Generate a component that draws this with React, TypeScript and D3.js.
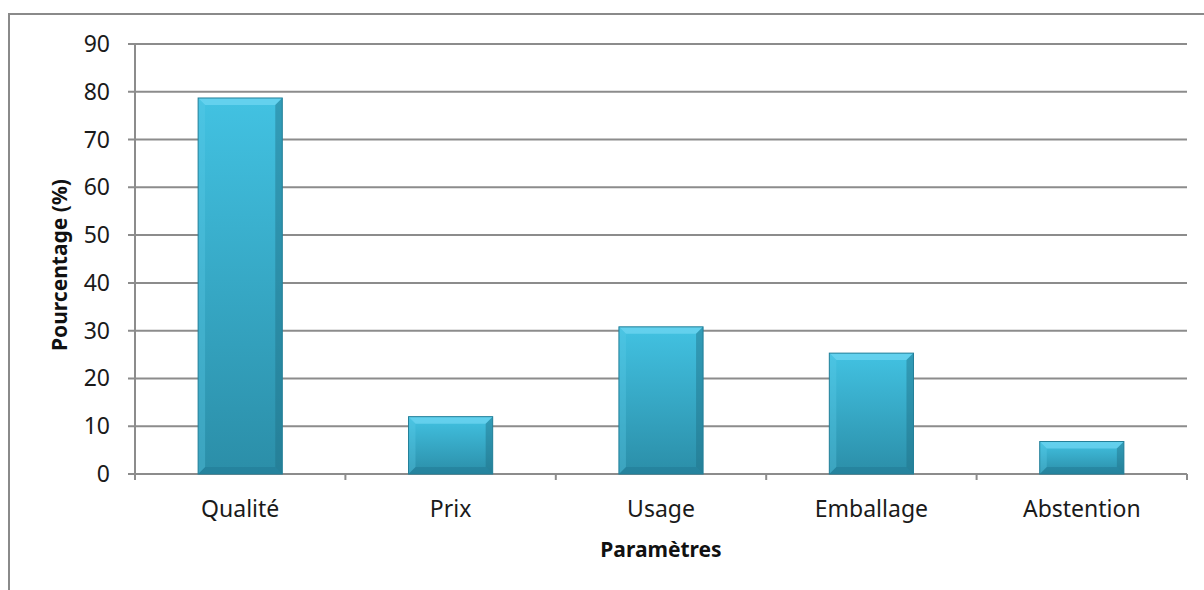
import { useEffect, useRef } from "react";
import * as d3 from "d3";

const categories = ["Qualité", "Prix", "Usage", "Emballage", "Abstention"];
const values = [78.7, 12, 30.8, 25.3, 6.8];
const yTicks = [0, 10, 20, 30, 40, 50, 60, 70, 80, 90];

const W = 1204;
const H = 590;

const App = () => {
  const svgRef = useRef<SVGSVGElement>(null);

  useEffect(() => {
    const margin = { top: 44, right: 17, bottom: 116, left: 135 };
    const width = W - margin.left - margin.right;
    const height = H - margin.top - margin.bottom;
    const font = "'Noto Sans', 'Open Sans', sans-serif";

    const svg = d3.select(svgRef.current);
    svg.selectAll("*").remove();

    // gradient for the bars
    const defs = svg.append("defs");
    const grad = defs.append("linearGradient").attr("id", "barGrad")
      .attr("x1", 0).attr("y1", 0).attr("x2", 0).attr("y2", 1);
    grad.append("stop").attr("offset", "0%").attr("stop-color", "#42c2e2");
    grad.append("stop").attr("offset", "100%").attr("stop-color", "#2b8ea8");

    // outer frame
    svg.append("rect")
      .attr("x", 9).attr("y", 14)
      .attr("width", W + 20).attr("height", H + 20)
      .attr("fill", "white")
      .attr("stroke", "#8a8a8a").attr("stroke-width", 2);

    const g = svg.append("g").attr("transform", `translate(${margin.left},${margin.top})`);

    const x = d3.scaleBand<string>().domain(categories).range([0, width])
      .paddingInner(0.6).paddingOuter(0.3);
    const y = d3.scaleLinear().domain([0, 90]).range([height, 0]);

    // gridlines
    g.append("g")
      .selectAll("line")
      .data(yTicks)
      .enter().append("line")
      .attr("x1", -7).attr("x2", width)
      .attr("y1", d => y(d)).attr("y2", d => y(d))
      .attr("stroke", "#8c8c8c").attr("stroke-width", 2);

    // y axis line
    g.append("line")
      .attr("x1", 0).attr("x2", 0).attr("y1", 0).attr("y2", height + 6)
      .attr("stroke", "#8c8c8c").attr("stroke-width", 2);

    // x category boundary ticks
    const step = x.step();
    g.append("g")
      .selectAll("line")
      .data(d3.range(categories.length + 1))
      .enter().append("line")
      .attr("x1", d => d * step).attr("x2", d => d * step)
      .attr("y1", height).attr("y2", height + 6)
      .attr("stroke", "#8c8c8c").attr("stroke-width", 2);

    // y tick labels
    g.append("g")
      .selectAll("text")
      .data(yTicks)
      .enter().append("text")
      .attr("x", -25).attr("y", d => y(d))
      .attr("dy", "0.35em")
      .attr("text-anchor", "end")
      .style("font-family", font).style("font-size", "23px").style("fill", "#1a1a1a")
      .text(d => d);

    // bars with bevel
    const bev = 7;
    const bars = g.append("g").selectAll("g")
      .data(categories)
      .enter().append("g")
      .attr("transform", d => `translate(${x(d)},0)`);

    bars.each(function (d, i) {
      const b = d3.select(this);
      const bw = x.bandwidth();
      const y0 = y(values[i]);
      const bh = height - y0;
      b.append("rect").attr("x", 0).attr("y", y0).attr("width", bw).attr("height", bh)
        .attr("fill", "url(#barGrad)");
      b.append("polygon")
        .attr("points", `0,${y0} ${bw},${y0} ${bw - bev},${y0 + bev} ${bev},${y0 + bev}`)
        .attr("fill", "#6fd6f2").attr("opacity", 0.75);
      b.append("polygon")
        .attr("points", `0,${height} ${bw},${height} ${bw - bev},${height - bev} ${bev},${height - bev}`)
        .attr("fill", "#1f7590").attr("opacity", 0.45);
      b.append("polygon")
        .attr("points", `0,${y0} ${bev},${y0 + bev} ${bev},${height - bev} 0,${height}`)
        .attr("fill", "#5ccbe8").attr("opacity", 0.35);
      b.append("polygon")
        .attr("points", `${bw},${y0} ${bw - bev},${y0 + bev} ${bw - bev},${height - bev} ${bw},${height}`)
        .attr("fill", "#1e6f86").attr("opacity", 0.45);
      b.append("rect").attr("x", 0).attr("y", y0).attr("width", bw).attr("height", bh)
        .attr("fill", "none").attr("stroke", "#237f98").attr("stroke-width", 1);
    });

    // x labels
    g.append("g")
      .selectAll("text")
      .data(categories)
      .enter().append("text")
      .attr("x", d => (x(d) as number) + x.bandwidth() / 2)
      .attr("y", height + 43)
      .attr("text-anchor", "middle")
      .style("font-family", font).style("font-size", "23px").style("fill", "#1a1a1a")
      .text(d => d);

    // axis titles
    svg.append("text")
      .attr("x", 661).attr("y", 557)
      .attr("text-anchor", "middle")
      .style("font-family", font).style("font-size", "21px").style("font-weight", "bold")
      .style("fill", "#111")
      .text("Paramètres");

    svg.append("text")
      .attr("transform", `translate(67,${margin.top + height / 2 + 6}) rotate(-90)`)
      .attr("text-anchor", "middle")
      .style("font-family", font).style("font-size", "21px").style("font-weight", "bold")
      .style("fill", "#111")
      .text("Pourcentage (%)");
  }, []);

  return (
    <svg
      ref={svgRef}
      width={W}
      height={H}
      style={{ position: "absolute", left: 0, top: 0, display: "block" }}
    />
  );
};

export default App;
